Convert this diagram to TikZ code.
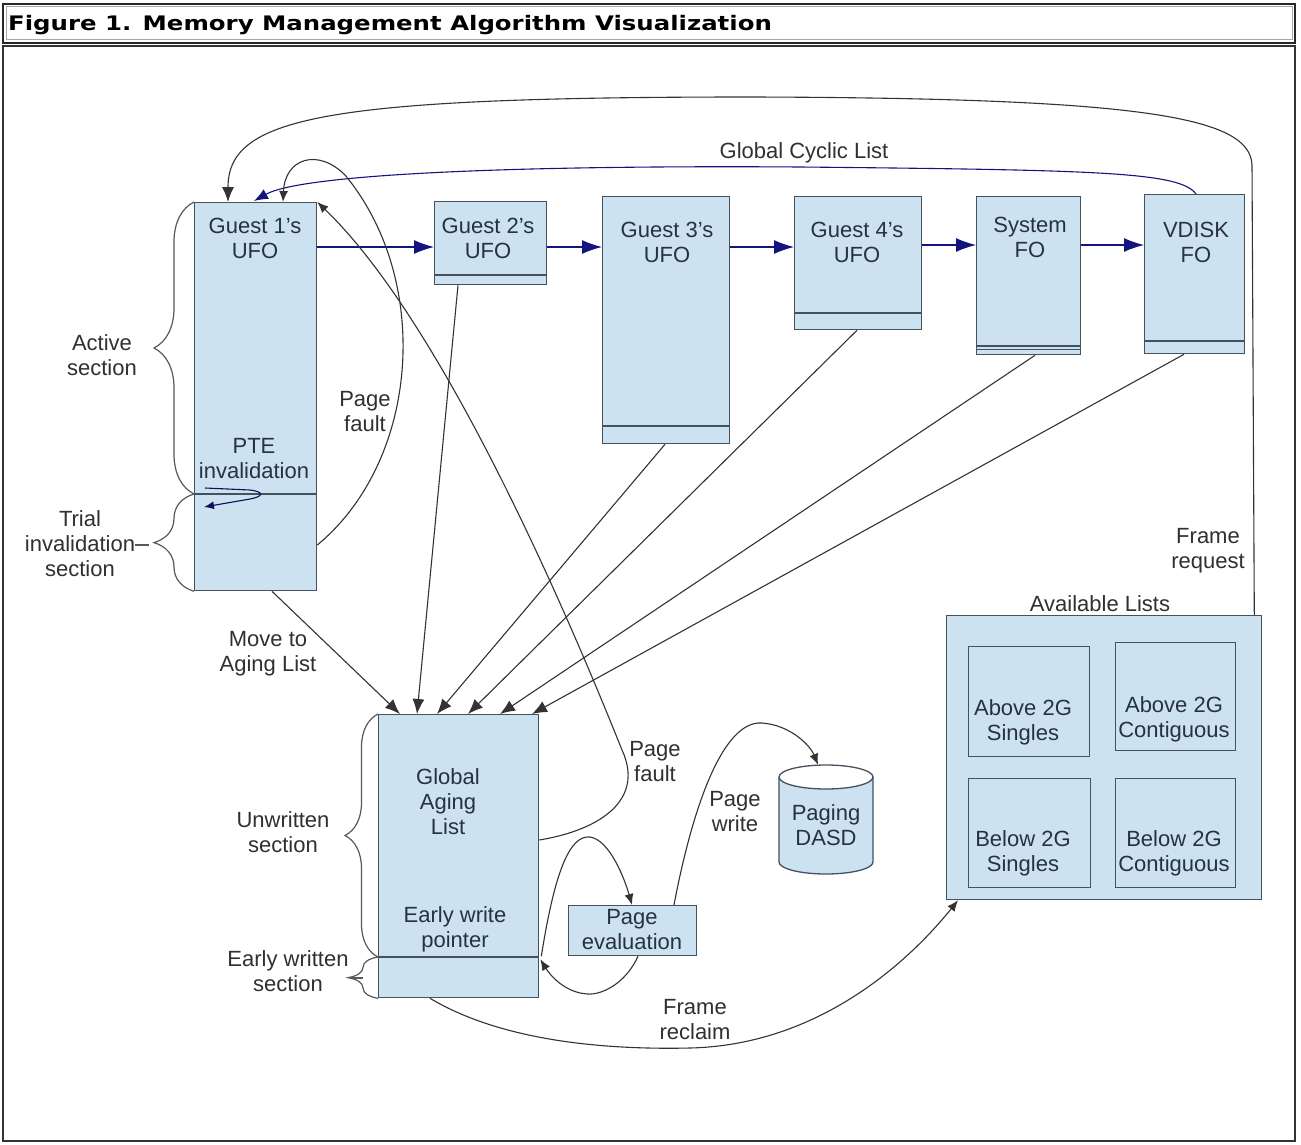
\documentclass[tikz,border=0pt]{standalone}
\usepackage{fontspec}
\setmainfont{Liberation Sans}
\newfontfamily\titlefont{DejaVu Sans}
\usetikzlibrary{arrows.meta,decorations.pathreplacing,calc}
\definecolor{boxfill}{HTML}{CDE2F0}
\definecolor{boxline}{HTML}{44525F}
\definecolor{boxtext}{HTML}{26323E}
\definecolor{labtext}{HTML}{303030}
\definecolor{navy}{HTML}{14147E}
\definecolor{conn}{HTML}{333333}
\tikzset{
  box/.style={draw=boxline, fill=boxfill, line width=1.3pt, inner sep=0pt, anchor=north west},
  boxtxt/.style={text=boxtext, font=\fontsize{22}{25}\selectfont, align=center, inner sep=0pt},
  labtxt/.style={text=labtext, font=\fontsize{22}{25}\selectfont, align=center, inner sep=0pt},
  divider/.style={draw=boxline, line width=1.3pt},
  bluearr/.style={draw=navy, line width=1.1pt, -{Latex[length=20pt,width=14pt]}},
  blkarr/.style={draw=conn, line width=1.1pt, -{Latex[length=15pt,width=12pt]}},
  smallarr/.style={draw=conn, line width=1.1pt, -{Latex[length=11pt,width=9pt]}},
  bracestyle/.style={draw=black!65, line width=1.2pt, decorate},
}
\begin{document}
\begin{tikzpicture}[x=1pt,y=-1pt]
\useasboundingbox (0,0) rectangle (1301,1145);
\fill[white] (0,0) rectangle (1301,1145);
% frame
\draw[line width=2pt, black!85] (3,4) rectangle (1295,43);
\draw[line width=1pt, black!35] (6,7) rectangle (1292,40);
\draw[line width=2pt, black!80] (3,46) rectangle (1295,1141);
\node[anchor=west, inner sep=0pt] (title) at (8,25)
  {\titlefont\bfseries\fontsize{20}{22}\selectfont\scalebox{1.22}[1]{Figure 1. Memory Management Algorithm Visualization}};

% boxes
\node[box, minimum width=122pt, minimum height=388pt] (g1) at (194,202) {};
\node[box, minimum width=112pt, minimum height=83pt] (g2) at (434,201) {};
\node[box, minimum width=127pt, minimum height=247pt] (g3) at (602,196) {};
\node[box, minimum width=127pt, minimum height=133pt] (g4) at (794,196) {};
\node[box, minimum width=104pt, minimum height=158pt] (sys) at (976,196) {};
\node[box, minimum width=100pt, minimum height=159pt] (vd) at (1144,194) {};
\node[box, minimum width=160pt, minimum height=283pt] (ga) at (378,714) {};
\node[box, minimum width=128pt, minimum height=50pt] (pe) at (568,905) {};
\node[box, minimum width=315pt, minimum height=284pt] (al) at (946,615) {};
\node[box, minimum width=121pt, minimum height=110pt] (a2s) at (968,646) {};
\node[box, minimum width=120pt, minimum height=108pt] (a2c) at (1115,642) {};
\node[box, minimum width=122pt, minimum height=109pt] (b2s) at (968,778) {};
\node[box, minimum width=120pt, minimum height=109pt] (b2c) at (1115,778) {};

% dividers
\draw[divider] (g1.west |- 0,494) -- (g1.east |- 0,494);
\draw[divider] (g2.west |- 0,275) -- (g2.east |- 0,275);
\draw[divider] (g3.west |- 0,426) -- (g3.east |- 0,426);
\draw[divider] (g4.west |- 0,313) -- (g4.east |- 0,313);
\draw[divider] (sys.west |- 0,346) -- (sys.east |- 0,346);
\draw[divider] (sys.west |- 0,349.5) -- (sys.east |- 0,349.5);
\draw[divider] (vd.west |- 0,341) -- (vd.east |- 0,341);
\draw[divider] (ga.west |- 0,957) -- (ga.east |- 0,957);

% DASD cylinder
\node[minimum width=94pt, minimum height=109pt, inner sep=0pt] (dasd) at (826,819.5) {};
\fill[boxfill] (779,777) -- (779,862) arc[start angle=180, end angle=0, x radius=47, y radius=12] -- (873,777) arc[start angle=0, end angle=180, x radius=47, y radius=12] -- cycle;
\draw[boxline, line width=1.3pt] (779,777) -- (779,862) arc[start angle=180, end angle=0, x radius=47, y radius=12] -- (873,777);
\draw[boxline, line width=1.3pt] (826,777) ellipse [x radius=47, y radius=12];

% box texts
\node[boxtxt] (g1t) at (255,238) {Guest 1's\\UFO};
\node[boxtxt] (pte) at (254,459) {PTE\\invalidation};
\node[boxtxt] (g2t) at (488,238) {Guest 2's\\UFO};
\node[boxtxt] (g3t) at (667,242) {Guest 3's\\UFO};
\node[boxtxt] (g4t) at (857,242) {Guest 4's\\UFO};
\node[boxtxt] (syst) at (1030,237) {System\\FO};
\node[boxtxt] (vdt) at (1196,242) {VDISK\\FO};
\node[boxtxt] (gat) at (448,802) {Global\\Aging\\List};
\node[boxtxt] (ewp) at (455,929) {Early write\\pointer};
\node[boxtxt] (pet) at (632,930) {Page\\evaluation};
\node[boxtxt] (dasdt) at (826,825) {Paging\\DASD};
\node[boxtxt] (a2st) at (1023,722) {Above 2G\\Singles};
\node[boxtxt] (a2ct) at (1174,719) {Above 2G\\Contiguous};
\node[boxtxt] (b2st) at (1023,853) {Below 2G\\Singles};
\node[boxtxt] (b2ct) at (1174,853) {Below 2G\\Contiguous};

% labels
\node[labtxt] (gcl) at (804,153) {Global Cyclic List};
\node[labtxt] (pf1) at (365,412) {Page\\fault};
\node[labtxt] (act) at (102,355) {Active\\section};
\node[labtxt] (trial) at (80,544) {Trial\\invalidation\\section};
\node[labtxt] (mta) at (268,654) {Move to\\Aging List};
\node[labtxt] (unw) at (283,832) {Unwritten\\section};
\node[labtxt] (ews) at (288,971) {Early written\\section};
\node[labtxt] (pf2) at (655,762) {Page\\fault};
\node[labtxt] (pw) at (735,812) {Page\\write};
\node[labtxt] (fr) at (695,1020) {Frame\\reclaim};
\node[labtxt] (freq) at (1208,551) {Frame\\request};
\node[labtxt] (avl) at (1100,604) {Available Lists};

% braces
\draw[bracestyle, decoration={brace, amplitude=40pt}] (g1.west |- 0,494) -- (g1.north west);
\draw[bracestyle, decoration={brace, amplitude=40pt}] (g1.south west) -- (g1.west |- 0,494);
\draw[bracestyle, decoration={brace, amplitude=33pt}] (ga.west |- 0,957) -- (ga.north west);
\draw[bracestyle, decoration={brace, amplitude=30pt}] (ga.south west) -- (ga.west |- 0,957);
\draw[black!65, line width=1.2pt] (trial.east |- 0,545) -- ++(14,0);
\draw[black!65, line width=1.2pt] (ews.east |- 0,978) ++(2,0) -- ++(12,0);

% blue chain
\draw[bluearr] ($(g1.north east)+(0,45)$) -- ($(g2.north west)+(0,46)$);
\draw[bluearr] ($(g2.north east)+(0,46)$) -- ($(g3.north west)+(0,51)$);
\draw[bluearr] ($(g3.north east)+(0,51)$) -- ($(g4.north west)+(0,51)$);
\draw[bluearr] ($(g4.north east)+(0,49)$) -- ($(sys.north west)+(0,49)$);
\draw[bluearr] ($(sys.north east)+(0,49)$) -- ($(vd.north west)+(0,51)$);
% global cyclic list
\draw[draw=navy, line width=1.1pt, -{Latex[length=14pt,width=11pt]}] ($(vd.north west)+(52,0)$) .. controls (1180,172) and (1100,170) .. (800,167) .. controls (500,165) and (300,175) .. ($(g1.north west)+(60,-1)$);

% frame request
\draw[blkarr] ($(al.north east)+(-8,0)$) -- (1252,165) .. controls (1250,118) and (1150,98) .. (750,97) .. controls (320,97) and (228,118) .. ($(g1.north west)+(34,0)$);

% page fault 1
\draw[smallarr] ($(g1.north east)+(0,343)$) .. controls (420,460) and (432,280) .. (345,175) .. controls (318,148) and (285,158) .. ($(g1.north west)+(89,0)$);
% page fault 2
\draw[smallarr] ($(ga.north east)+(0,126)$) .. controls (600,830) and (645,800) .. (622,750) .. controls (562,600) and (440,320) .. (g1.north east);

% to aging list
\draw[blkarr] ($(g1.south west)+(78,0)$) -- ($(ga.north west)+(22,0)$);
\draw[blkarr] ($(g2.south west)+(24,0)$) -- ($(ga.north west)+(39,0)$);
\draw[blkarr] ($(g3.south west)+(63,0)$) -- ($(ga.north west)+(59,0)$);
\draw[blkarr] ($(g4.south west)+(63,0)$) -- ($(ga.north west)+(90,0)$);
\draw[blkarr] ($(sys.south west)+(59,0)$) -- ($(ga.north west)+(122,0)$);
\draw[blkarr] ($(vd.south west)+(40,0)$) -- ($(ga.north west)+(154,0)$);

% page evaluation loop
\draw[smallarr] ($(ga.south east)+(2,-42)$) .. controls (555,870) and (570,835) .. (590,837) .. controls (610,840) and (625,880) .. ($(pe.north west)+(64,0)$);
\draw[smallarr] ($(pe.south west)+(70,0)$) .. controls (625,985) and (600,995) .. (588,994) .. controls (565,993) and (550,975) .. ($(ga.south east)+(1,-39)$);
% page write
\draw[smallarr] ($(pe.north west)+(106,0)$) .. controls (690,820) and (720,720) .. (762,723) .. controls (790,725) and (810,745) .. ($(dasd.north)+(-8,0)$);
% frame reclaim
\draw[smallarr] ($(ga.south west)+(52,0)$) .. controls (500,1040) and (600,1050) .. (690,1048) .. controls (820,1045) and (910,960) .. ($(al.south west)+(12,0)$);

% PTE hairpin
\draw[draw=navy!70!black, line width=1.1pt, -{Latex[length=10pt,width=8pt]}] ($(g1.north west)+(11,286)$) -- (250,490) .. controls (266,492) and (262,497) .. (250,499) -- ($(g1.north west)+(10,305)$);
\end{tikzpicture}
\end{document}
